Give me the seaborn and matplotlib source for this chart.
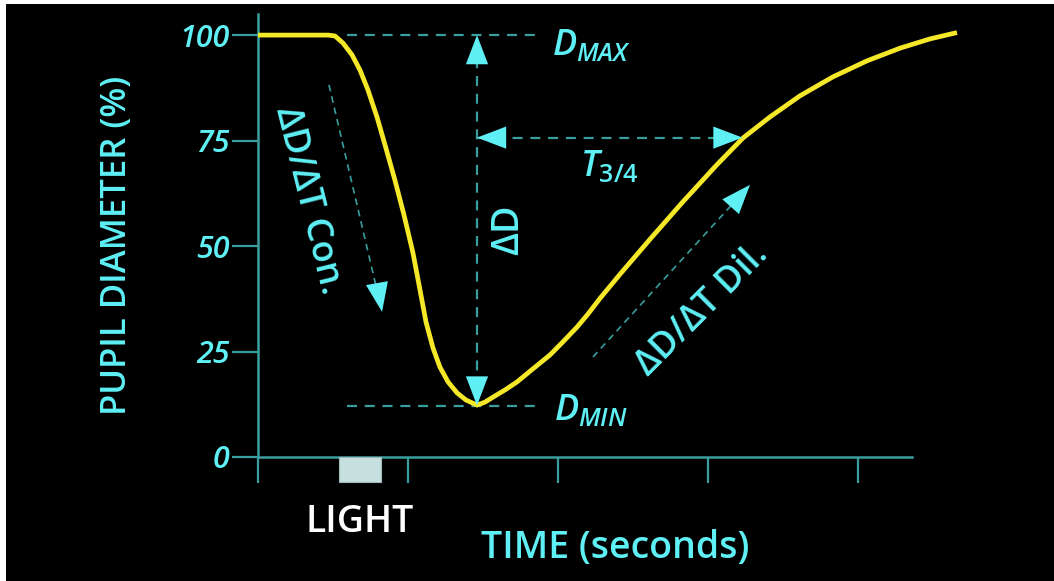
import numpy as np
import pandas as pd
import seaborn as sns
import matplotlib.pyplot as plt
from matplotlib.patches import Rectangle

# pupil response curve (time in s, diameter in %)
time_s = [0.0, 0.30, 0.467, 0.513, 0.567, 0.627, 0.68, 0.733, 0.793, 0.853,
          0.913, 0.973, 1.033, 1.08, 1.12, 1.167, 1.213, 1.267, 1.327, 1.387,
          1.46, 1.513, 1.567, 1.647, 1.727, 1.833, 1.947, 2.033, 2.127, 2.2,
          2.28, 2.413, 2.613, 2.833, 3.06, 3.233, 3.413, 3.613, 3.833, 4.06,
          4.28, 4.48, 4.66]
diameter = [100.0, 100.0, 100.0, 99.8, 98.1, 95.3, 91.7, 87.0, 80.6, 73.2,
            65.6, 57.4, 48.4, 39.6, 32.0, 25.8, 21.3, 17.8, 15.2, 13.5,
            12.3, 13.0, 14.2, 15.9, 17.8, 20.9, 24.2, 27.3, 30.8, 33.9,
            37.6, 43.3, 51.6, 60.5, 69.3, 75.6, 80.6, 85.6, 90.1, 93.9,
            96.9, 99.1, 100.6]

yticks = [0, 25, 50, 75, 100]
xticks = [0, 1, 2, 3, 4]

# key points used by the annotations
d_max = 100.0
d_min = 12.2
t_min = 1.46
t_34 = 3.23
d_34 = 75.7
light_on, light_off = 0.54, 0.82

df = pd.DataFrame({'time': time_s, 'diameter': diameter})

cyan = '#5ef0f5'
teal = '#3a9e9e'
yellow = '#f5e829'

sns.set_style('dark', rc={'axes.facecolor': 'black', 'figure.facecolor': 'white'})
plt.rcParams['font.family'] = ['Open Sans', 'DejaVu Sans']
plt.rcParams['font.weight'] = 'semibold'
plt.rcParams['mathtext.fontset'] = 'custom'
plt.rcParams['mathtext.rm'] = 'Open Sans:semibold'
plt.rcParams['mathtext.it'] = 'Open Sans:italic:semibold'

fig = plt.figure(figsize=(10.54, 5.81), dpi=100)
W, H = 1054, 581
#black slide with the thin white edge at top and left
fig.patches.append(Rectangle((6 / W, 0), 1, 577 / H, transform=fig.transFigure,
                             facecolor='black', edgecolor='none', zorder=-10))
ax = fig.add_axes([258 / W, 1 - 457 / H, 735 / W, 443 / H])
ax.set_facecolor('none')

sns.lineplot(data=df, x='time', y='diameter', color=yellow, lw=3.4, ax=ax,
             zorder=5, solid_capstyle='butt', solid_joinstyle='round')

ax.set_xlim(0, 4.9)
ax.set_ylim(0, 105)

# axes
for s in ['top', 'right']:
    ax.spines[s].set_visible(False)
for s in ['left', 'bottom']:
    ax.spines[s].set_color(teal)
    ax.spines[s].set_linewidth(1.8)
ax.spines['bottom'].set_bounds(0, 4.36)
ax.set_xticks(xticks)
ax.set_xticklabels([])
ax.set_yticks(yticks)
ax.set_yticklabels([str(v) for v in yticks], fontsize=22, style='italic', color=cyan)
ax.tick_params(axis='both', colors=teal, length=18.5, width=1.6, direction='out')
ax.tick_params(axis='y', labelcolor=cyan, pad=2, left=True)
ax.tick_params(axis='x', bottom=True)
ax.grid(False)

ax.set_xlabel('')
ax.set_ylabel('PUPIL DIAMETER (%)', fontsize=25, color=cyan, fontweight='semibold')
# label anchor is its right edge once rotated
ax.yaxis.set_label_coords((134 - 258) / 735, (457 - 245) / 443)

dash = (0, (4.5, 3.5))


def head(tip, base):
    ax.annotate('', xy=tip, xytext=base,
                arrowprops=dict(arrowstyle='-|>,head_length=21,head_width=8',
                                mutation_scale=1, color=cyan, lw=0,
                                shrinkA=0, shrinkB=0), zorder=6)


# D max / D min reference lines
ax.plot([0.593, 1.893], [d_max, d_max], color=teal, lw=1.6, ls=dash)
ax.plot([0.593, 1.893], [d_min, d_min], color=teal, lw=1.6, ls=dash)

# delta D vertical double arrow
ax.plot([t_min, t_min], [d_min, d_max], color=teal, lw=1.6, ls=dash)
head((t_min, d_max), (t_min, d_max - 10))
head((t_min, d_min), (t_min, d_min + 10))

# T 3/4 horizontal double arrow
ax.plot([t_min, t_34], [d_34, d_34], color=teal, lw=1.6, ls=dash)
head((t_min, d_34), (t_min + 0.3, d_34))
head((t_34, d_34), (t_34 - 0.3, d_34))

# constriction / dilation slope arrows
con_tail, con_tip = (0.473, 88.2), (0.827, 34.4)
dil_tail, dil_tip = (2.233, 23.7), (3.28, 64.5)
ax.plot([con_tail[0], con_tip[0]], [con_tail[1], con_tip[1]], color=teal, lw=1.2, ls=(0, (4, 3)))
head(con_tip, (con_tip[0] - 0.05, con_tip[1] + 10))
ax.plot([dil_tail[0], dil_tip[0]], [dil_tail[1], dil_tip[1]], color=teal, lw=1.2, ls=(0, (4, 3)))
head(dil_tip, (dil_tip[0] - 0.2, dil_tip[1] - 8))

# labels
ax.text(1.96, 97.4, r'$\mathit{D}_{\mathit{MAX}}$', fontsize=26, color=cyan, ha='left', va='center')
ax.text(1.975, 10.9, r'$\mathit{D}_{\mathit{MIN}}$', fontsize=26, color=cyan, ha='left', va='center')
ax.text(2.34, 68.7, r'$\mathit{T}_{\mathit{3/4}}$', fontsize=26, color=cyan, ha='center', va='center')
ax.text(1.67, 53.8, 'ΔD', fontsize=27, color=cyan, rotation=90, ha='center', va='center')
ax.text(0.333, 60.9, 'ΔD/ΔT Con.', fontsize=26, color=cyan, rotation=-76,
        ha='center', va='center', rotation_mode='anchor')
ax.text(2.96, 34.8, 'ΔD/ΔT Dil.', fontsize=26, color=cyan, rotation=45,
        ha='center', va='center', rotation_mode='anchor')

# light stimulus marker
ax.add_patch(Rectangle((light_on, -6.0), light_off - light_on, 6.0, facecolor='#c6e0e0',
                       edgecolor='#9fb8b8', lw=0.8, clip_on=False, zorder=4))
ax.text((light_on + light_off) / 2, -15.5, 'LIGHT', fontsize=27, color='white',
        ha='center', va='center', clip_on=False)
ax.text(2.38, -21.6, 'TIME (seconds)', fontsize=27, color=cyan,
        ha='center', va='center', clip_on=False)

fig.savefig('out.png', dpi=100, facecolor=fig.get_facecolor())
